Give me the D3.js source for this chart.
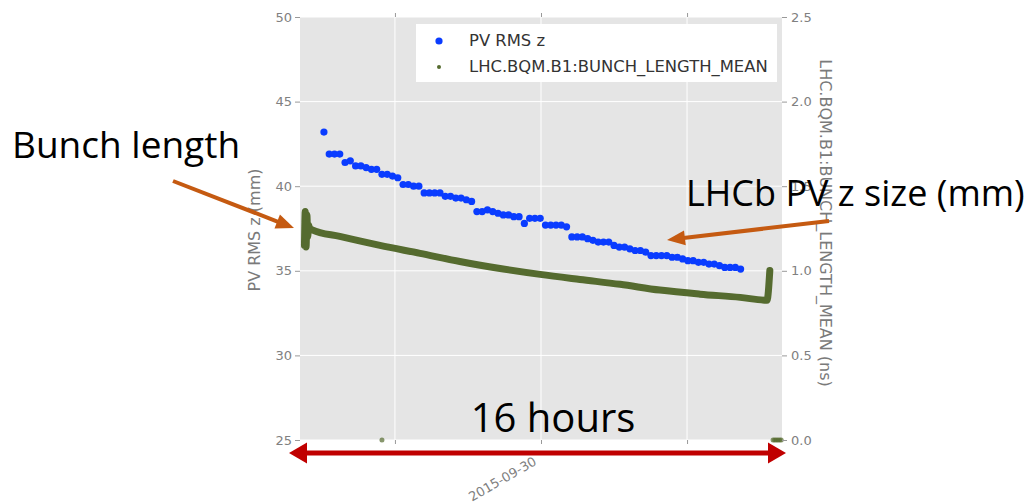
<!DOCTYPE html>
<head>
  <meta charset="utf-8">
  <style>
    body { margin: 0; background: #fff; }
    svg text { font-family: "DejaVu Sans", sans-serif; }
    svg .tick text { fill: #808080; font-size: 13px; }
    svg .tick line { stroke: #999; }
    svg .domain { display: none; }
    svg .grid { stroke: #fff; stroke-width: 1px; }
    svg .axis-label { fill: #7a7a7a; font-size: 16px; }
    svg .note { font-family: "Open Sans", sans-serif; fill: #000; }
  </style>
</head>

<body>
<script src="https://d3js.org/d3.v7.min.js"></script>

<script>
  // PV RMS z (mm)
  var pvTimes = [
    "2015-09-29 15:05", "2015-09-29 15:18", "2015-09-29 15:31", "2015-09-29 15:44", "2015-09-29 15:57",
    "2015-09-29 16:10", "2015-09-29 16:23", "2015-09-29 16:36", "2015-09-29 16:49", "2015-09-29 17:02",
    "2015-09-29 17:15", "2015-09-29 17:28", "2015-09-29 17:41", "2015-09-29 17:54", "2015-09-29 18:07",
    "2015-09-29 18:20", "2015-09-29 18:33", "2015-09-29 18:46", "2015-09-29 18:59", "2015-09-29 19:12",
    "2015-09-29 19:25", "2015-09-29 19:38", "2015-09-29 19:51", "2015-09-29 20:04", "2015-09-29 20:17",
    "2015-09-29 20:30", "2015-09-29 20:43", "2015-09-29 20:56", "2015-09-29 21:09", "2015-09-29 21:22",
    "2015-09-29 21:35", "2015-09-29 21:48", "2015-09-29 22:01", "2015-09-29 22:14", "2015-09-29 22:27",
    "2015-09-29 22:40", "2015-09-29 22:53", "2015-09-29 23:06", "2015-09-29 23:19", "2015-09-29 23:32",
    "2015-09-29 23:45", "2015-09-29 23:58", "2015-09-30 00:11", "2015-09-30 00:24", "2015-09-30 00:37",
    "2015-09-30 00:50", "2015-09-30 01:03", "2015-09-30 01:16", "2015-09-30 01:29", "2015-09-30 01:42",
    "2015-09-30 01:55", "2015-09-30 02:08", "2015-09-30 02:21", "2015-09-30 02:34", "2015-09-30 02:47",
    "2015-09-30 03:00", "2015-09-30 03:13", "2015-09-30 03:26", "2015-09-30 03:39", "2015-09-30 03:52",
    "2015-09-30 04:05", "2015-09-30 04:18", "2015-09-30 04:31", "2015-09-30 04:44", "2015-09-30 04:57",
    "2015-09-30 05:10", "2015-09-30 05:23", "2015-09-30 05:36", "2015-09-30 05:49", "2015-09-30 06:02",
    "2015-09-30 06:15", "2015-09-30 06:28", "2015-09-30 06:41", "2015-09-30 06:54", "2015-09-30 07:07",
    "2015-09-30 07:20", "2015-09-30 07:33", "2015-09-30 07:46", "2015-09-30 07:59", "2015-09-30 08:12"
  ];
  var pvRms = [
    43.2, 41.9, 41.9, 41.9, 41.4, 41.5, 41.2, 41.2, 41.1, 41.0,
    41.0, 40.7, 40.7, 40.6, 40.5, 40.1, 40.1, 40.0, 40.0, 39.6,
    39.6, 39.6, 39.6, 39.4, 39.4, 39.3, 39.3, 39.2, 39.1, 38.5,
    38.5, 38.6, 38.5, 38.4, 38.3, 38.3, 38.2, 38.2, 37.8, 38.1,
    38.1, 38.1, 37.7, 37.7, 37.7, 37.7, 37.6, 37.0, 37.0, 37.0,
    36.9, 36.8, 36.7, 36.7, 36.7, 36.5, 36.4, 36.4, 36.3, 36.2,
    36.2, 36.1, 35.9, 35.9, 35.9, 35.9, 35.8, 35.8, 35.7, 35.6,
    35.6, 35.5, 35.5, 35.4, 35.4, 35.3, 35.2, 35.2, 35.2, 35.1
  ];

  // LHC.BQM.B1:BUNCH_LENGTH_MEAN (ns)
  var blTimes = [
    "2015-09-29 14:17", "2015-09-29 14:19", "2015-09-29 14:21", "2015-09-29 14:23", "2015-09-29 14:25",
    "2015-09-29 14:27", "2015-09-29 14:30", "2015-09-29 14:36", "2015-09-29 15:44", "2015-09-29 17:23",
    "2015-09-29 17:28", "2015-09-29 19:02", "2015-09-29 20:40", "2015-09-29 22:19", "2015-09-29 23:58",
    "2015-09-30 01:36", "2015-09-30 03:15", "2015-09-30 04:53", "2015-09-30 06:32", "2015-09-30 08:11",
    "2015-09-30 09:17", "2015-09-30 09:24", "2015-09-30 09:32", "2015-09-30 09:36", "2015-09-30 09:40",
    "2015-09-30 09:44", "2015-09-30 09:48", "2015-09-30 09:52"
  ];
  var blMean = [
    1.15, 1.35, 1.14, 1.33, 1.20, 1.27, 1.25, 1.242, 1.203, 1.150,
    0.0, 1.103, 1.055, 1.014, 0.979, 0.949, 0.920, 0.886, 0.862, 0.843,
    0.826, 1.002, 0.0, 0.0, 0.0, 0.0, 0.0, 0.0
  ];

  var seriesNames = ["PV RMS z", "LHC.BQM.B1:BUNCH_LENGTH_MEAN"];
  var timeRange = ["2015-09-29 14:06", "2015-09-30 09:54"];
  var zTicks = [25, 30, 35, 40, 45, 50];
  var nsTicks = [0.0, 0.5, 1.0, 1.5, 2.0, 2.5];
  var dateTickLabel = "2015-09-30";

  var W = 1033, H = 503;
  var plotLeft = 300, plotRight = 782, plotTop = 17, plotBottom = 440;
  var blue = "#0a3cff", olive = "#556B2F";

  var parse = d3.utcParse("%Y-%m-%d %H:%M");
  var pv = pvTimes.map(function (t, i) { return { t: parse(t), v: pvRms[i] }; });
  var bl = blTimes.map(function (t, i) { return { t: parse(t), v: blMean[i] }; });

  var svg = d3.select("body").append("svg")
      .attr("width", W)
      .attr("height", H);

  // scales
  var xScale = d3.scaleUtc().domain(timeRange.map(parse)).range([plotLeft, plotRight]);
  var yLeft = d3.scaleLinear().domain([25, 50]).range([plotBottom, plotTop]);
  var yRight = d3.scaleLinear().domain([0, 2.5]).range([plotBottom, plotTop]);
  var xTicks = xScale.ticks(d3.utcHour.every(6));

  svg.append("defs").append("clipPath").attr("id", "plotclip")
    .append("rect")
      .attr("x", plotLeft).attr("y", plotTop)
      .attr("width", plotRight - plotLeft).attr("height", plotBottom - plotTop);

  // gray plot background + white grid
  svg.append("rect")
      .attr("x", plotLeft).attr("y", plotTop)
      .attr("width", plotRight - plotLeft).attr("height", plotBottom - plotTop)
      .style("fill", "#e5e5e5");

  svg.selectAll("line.hgrid").data(zTicks).enter()
    .append("line")
      .classed("grid", true)
      .attr("x1", plotLeft).attr("x2", plotRight)
      .attr("y1", function (d) { return yLeft(d); })
      .attr("y2", function (d) { return yLeft(d); });

  svg.selectAll("line.vgrid").data(xTicks).enter()
    .append("line")
      .classed("grid", true)
      .attr("y1", plotTop).attr("y2", plotBottom)
      .attr("x1", function (d) { return xScale(d); })
      .attr("x2", function (d) { return xScale(d); });

  // bunch length: dense markers drawn as a thick band, zero readings as dots
  var blLine = d3.line()
    .curve(d3.curveMonotoneX)
    .x(function (d) { return xScale(d.t); })
    .y(function (d) { return yRight(d.v); });

  svg.append("path")
      .attr("clip-path", "url(#plotclip)")
      .attr("d", blLine(bl.filter(function (d) { return d.v > 0; })))
      .style("fill", "none")
      .style("stroke", olive)
      .style("stroke-width", "7px")
      .style("stroke-linejoin", "round")
      .style("stroke-linecap", "round");

  svg.selectAll("circle.zero").data(bl.filter(function (d) { return d.v === 0; })).enter()
    .append("circle")
      .attr("cx", function (d) { return xScale(d.t); })
      .attr("cy", function (d) { return yRight(d.v); })
      .attr("r", 2.5)
      .style("fill", olive)
      .style("opacity", 0.7);

  // PV RMS z points
  svg.selectAll("circle.pv").data(pv).enter()
    .append("circle")
      .attr("cx", function (d) { return xScale(d.t); })
      .attr("cy", function (d) { return yLeft(d.v); })
      .attr("r", 3.6)
      .style("fill", blue);

  // axes
  svg.append("g")
      .attr("transform", "translate(" + plotLeft + ",0)")
      .call(d3.axisLeft(yLeft).tickValues(zTicks).tickSize(5).tickPadding(3));

  svg.append("g")
      .attr("transform", "translate(" + plotRight + ",0)")
      .call(d3.axisRight(yRight).tickValues(nsTicks).tickSize(5).tickPadding(4)
        .tickFormat(d3.format(".1f")));

  svg.append("g")
      .attr("transform", "translate(0," + plotTop + ")")
      .call(d3.axisTop(xScale).tickValues(xTicks).tickSize(4).tickFormat(""));

  var xa = svg.append("g")
      .attr("transform", "translate(0," + plotBottom + ")")
      .call(d3.axisBottom(xScale).tickValues(xTicks).tickSize(4)
        .tickFormat(function (d) { return d.getUTCHours() === 0 ? dateTickLabel : ""; }));
  xa.selectAll(".tick text")
      .attr("y", 0).attr("dy", 0)
      .attr("transform", "translate(-4,24) rotate(-30)")
      .style("text-anchor", "end");

  // axis titles
  svg.append("text")
      .classed("axis-label", true)
      .attr("transform", "translate(260,230) rotate(-90)")
      .style("text-anchor", "middle")
      .text("PV RMS z (mm)");
  svg.append("text")
      .classed("axis-label", true)
      .attr("transform", "translate(820,223) rotate(90)")
      .style("text-anchor", "middle")
      .text("LHC.BQM.B1:BUNCH_LENGTH_MEAN (ns)");

  // legend
  var lg = svg.append("g").attr("transform", "translate(416,24)");
  lg.append("rect")
      .attr("width", 361).attr("height", 58)
      .style("fill", "#fff");
  lg.append("circle").attr("cx", 23).attr("cy", 17).attr("r", 3.6).style("fill", blue);
  lg.append("circle").attr("cx", 23).attr("cy", 43).attr("r", 2).style("fill", olive);
  lg.selectAll("text.lg").data(seriesNames).enter()
    .append("text")
      .attr("x", 53)
      .attr("y", function (d, i) { return 22 + i * 26; })
      .style("font-size", "16.4px")
      .style("fill", "#333")
      .text(function (d) { return d; });

  // slide annotations
  function arrow(x1, y1, x2, y2, color, width, headLen, headWid, both) {
    var g = svg.append("g");
    var dx = x2 - x1, dy = y2 - y1, len = Math.sqrt(dx * dx + dy * dy);
    var ux = dx / len, uy = dy / len;
    var sx = both ? x1 + ux * headLen * 0.8 : x1, sy = both ? y1 + uy * headLen * 0.8 : y1;
    g.append("line")
        .attr("x1", sx).attr("y1", sy)
        .attr("x2", x2 - ux * headLen * 0.8).attr("y2", y2 - uy * headLen * 0.8)
        .style("stroke", color).style("stroke-width", width);
    function head(tx, ty, vx, vy) {
      var bx = tx - vx * headLen, by = ty - vy * headLen;
      return [[tx, ty], [bx - vy * headWid / 2, by + vx * headWid / 2],
              [bx + vy * headWid / 2, by - vx * headWid / 2]].join(" ");
    }
    g.append("polygon").attr("points", head(x2, y2, ux, uy)).style("fill", color);
    if (both) g.append("polygon").attr("points", head(x1, y1, -ux, -uy)).style("fill", color);
  }

  svg.append("text").classed("note", true)
      .attr("x", 12).attr("y", 158)
      .style("font-size", "37px")
      .text("Bunch length");
  arrow(173, 181, 294, 228, "#c55a11", 4, 18, 15, false);

  svg.append("text").classed("note", true)
      .attr("x", 686).attr("y", 206)
      .style("font-size", "36px")
      .text("LHCb PV z size (mm)");
  arrow(829, 221, 667, 240, "#c55a11", 4, 18, 15, false);

  svg.append("text").classed("note", true)
      .attr("x", 553).attr("y", 432)
      .style("font-size", "40px")
      .style("text-anchor", "middle")
      .text("16 hours");
  arrow(289, 453, 786, 453, "#c00000", 5, 18, 21, true);
</script>
</body>
</html>
